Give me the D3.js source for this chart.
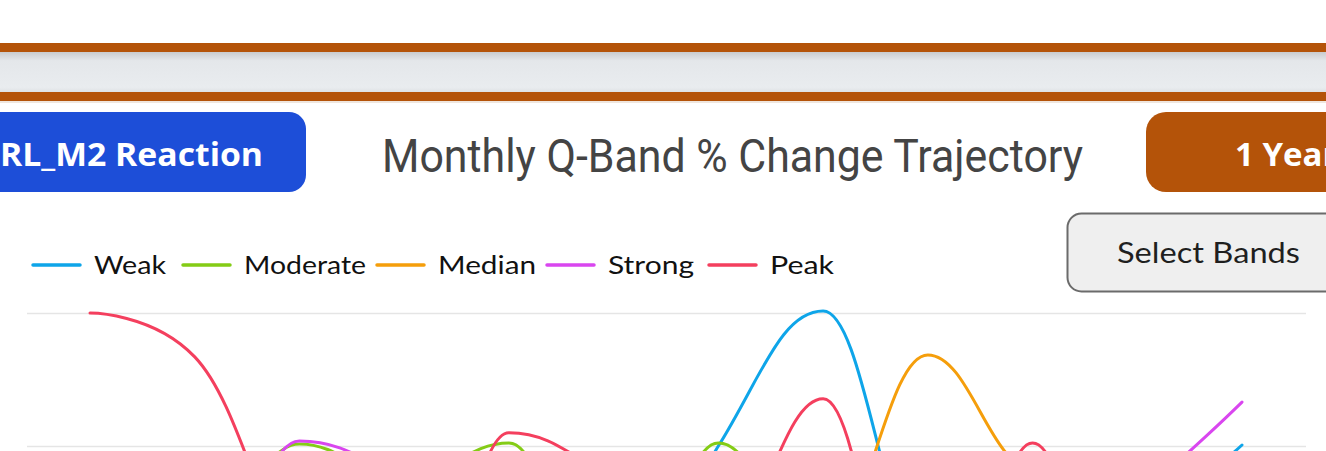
<!DOCTYPE html>
<html>
<head>
<meta charset="utf-8">
<script src="https://cdn.jsdelivr.net/npm/d3@7"></script>
<style>
  html, body { margin: 0; padding: 0; background: #ffffff; overflow: hidden; }
  svg { display: block; }
</style>
</head>
<body>
<svg id="chart" width="1326" height="451"></svg>
<script>
// ---------------- DATA ----------------
const months = ["Jan", "Feb", "Mar", "Apr", "May", "Jun", "Jul", "Aug", "Sep", "Oct", "Nov", "Dec"];
const seriesNames = ["Weak", "Moderate", "Median", "Strong", "Peak"];
const seriesColors = ["#0ea5e9", "#84cc16", "#f59e0b", "#d946ef", "#f43f5e"];
const weakValues     = [-20, -25, -15, -22, -28, -30, 0, 20.3, -17.1, -10, -9.3, 0.15];
const moderateValues = [-10, -15, 0.3, -5, 0.45, -30, 0.45, -19, -20, -10, -18, -8];
const medianValues   = [-8, -12, -6, -14, -9, -18, -10, -15.2, 13.7, -3.4, -3.0, -8];
const strongValues   = [-15, -25, 0.75, -5, -14, -20, -18, -25, -22, -17, -7.4, 6.6];
const peakValues     = [20, 13.4, -20, -40, 2.0, -5, -15, 7.1, -43, 0.45, -40, -30];
const gridTicks = [20, 0, -20, -40, -60];
const titleText = "Monthly Q-Band % Change Trajectory";
const leftButtonText = "RL_M2 Reaction";
const rightButtonText = "1 Year";
const selectText = "Select Bands";

const allValues = [weakValues, moderateValues, medianValues, strongValues, peakValues];

// ---------------- SPLINE CURVE (smoothing 1.5, no overshoot) ----------------
function SmoothSpline(context) { this._context = context; }
SmoothSpline.prototype = {
  areaStart() { this._line = 0; },
  areaEnd() { this._line = NaN; },
  lineStart() { this._pts = []; },
  point(x, y) { this._pts.push({ x: +x, y: +y }); },
  lineEnd() {
    const p = this._pts, n = p.length, ctx = this._context;
    if (!n) return;
    const smoothing = 1.5, denom = smoothing + 1;
    for (let i = 1; i < n - 1; i++) {
      const a = p[i - 1], c = p[i], b = p[i + 1];
      const lx = (smoothing * c.x + a.x) / denom;
      let ly = (smoothing * c.y + a.y) / denom;
      const rx = (smoothing * c.x + b.x) / denom;
      let ry = (smoothing * c.y + b.y) / denom;
      let corr = 0;
      if (rx !== lx) corr = ((ry - ly) * (rx - c.x)) / (rx - lx) + c.y - ry;
      ly += corr; ry += corr;
      if (ly > a.y && ly > c.y) { ly = Math.max(a.y, c.y); ry = 2 * c.y - ly; }
      else if (ly < a.y && ly < c.y) { ly = Math.min(a.y, c.y); ry = 2 * c.y - ly; }
      if (ry > b.y && ry > c.y) { ry = Math.max(b.y, c.y); ly = 2 * c.y - ry; }
      else if (ry < b.y && ry < c.y) { ry = Math.min(b.y, c.y); ly = 2 * c.y - ry; }
      c.lx = lx; c.ly = ly; c.rx = rx; c.ry = ry;
    }
    ctx.moveTo(p[0].x, p[0].y);
    for (let i = 1; i < n; i++) {
      const a = p[i - 1], c = p[i];
      const c1x = a.rx !== undefined ? a.rx : a.x;
      const c1y = a.ry !== undefined ? a.ry : a.y;
      const c2x = c.lx !== undefined ? c.lx : c.x;
      const c2y = c.ly !== undefined ? c.ly : c.y;
      ctx.bezierCurveTo(c1x, c1y, c2x, c2y, c.x, c.y);
    }
  }
};
const curveSmoothSpline = ctx => new SmoothSpline(ctx);

// ---------------- DRAW ----------------
const W = 1326, H = 451;
const svg = d3.select("#chart");
const defs = svg.append("defs");

const bandGrad = defs.append("linearGradient").attr("id", "bandGrad").attr("x1", 0).attr("y1", 0).attr("x2", 0).attr("y2", 1);
bandGrad.append("stop").attr("offset", "0%").attr("stop-color", "#c9cbce");
bandGrad.append("stop").attr("offset", "22%").attr("stop-color", "#e4e7ea");
bandGrad.append("stop").attr("offset", "88%").attr("stop-color", "#e9ecef");
bandGrad.append("stop").attr("offset", "100%").attr("stop-color", "#dfe2e5");

// header band
svg.append("rect").attr("x", 0).attr("y", 43).attr("width", W).attr("height", 9).attr("fill", "#b45309");
svg.append("rect").attr("x", 0).attr("y", 52).attr("width", W).attr("height", 40).attr("fill", "url(#bandGrad)");
svg.append("rect").attr("x", 0).attr("y", 92).attr("width", W).attr("height", 9).attr("fill", "#b45309");
svg.append("rect").attr("x", 0).attr("y", 101).attr("width", W).attr("height", 2).attr("fill", "#efe6de");

// left button
svg.append("rect").attr("x", -60).attr("y", 112).attr("width", 366).attr("height", 80).attr("rx", 17).attr("fill", "#1d4ed8");
svg.append("text").attr("x", 0).attr("y", 166)
  .attr("font-family", "'Open Sans', sans-serif").attr("font-weight", 700).attr("font-size", 33)
  .attr("fill", "#ffffff").attr("textLength", 263).attr("lengthAdjust", "spacingAndGlyphs")
  .text(leftButtonText);

// title
svg.append("text").attr("x", 382).attr("y", 172)
  .attr("font-family", "Roboto, sans-serif").attr("font-weight", 400).attr("font-size", 47)
  .attr("fill", "#444444").attr("textLength", 701).attr("lengthAdjust", "spacingAndGlyphs")
  .text(titleText);

// right button
svg.append("rect").attr("x", 1146).attr("y", 112).attr("width", 300).attr("height", 80).attr("rx", 20).attr("fill", "#b45309");
svg.append("text").attr("x", 1235).attr("y", 166)
  .attr("font-family", "'Open Sans', sans-serif").attr("font-weight", 700).attr("font-size", 33)
  .attr("fill", "#ffffff")
  .text(rightButtonText);

// select bands button
svg.append("rect").attr("x", 1067.5).attr("y", 213.5).attr("width", 300).attr("height", 78).attr("rx", 14)
  .attr("fill", "#efefef").attr("stroke", "#6b6b6b").attr("stroke-width", 2);
svg.append("text").attr("x", 1117).attr("y", 263)
  .attr("font-family", "Lato, sans-serif").attr("font-size", 28).attr("fill", "#1f1f1f")
  .attr("textLength", 183).attr("lengthAdjust", "spacingAndGlyphs")
  .text(selectText);

// legend
const legendMarkerX = [33, 183, 377, 547, 709];
const legendTextWidths = [72, 122, 98, 86, 64];
const legend = svg.append("g").attr("class", "legend");
seriesNames.forEach((name, i) => {
  const g = legend.append("g");
  g.append("line").attr("x1", legendMarkerX[i]).attr("x2", legendMarkerX[i] + 47)
    .attr("y1", 265).attr("y2", 265)
    .attr("stroke", seriesColors[i]).attr("stroke-width", 3.5).attr("stroke-linecap", "round");
  g.append("text").attr("x", legendMarkerX[i] + 61).attr("y", 274)
    .attr("font-family", "Lato, sans-serif").attr("font-size", 25).attr("fill", "#111111")
    .attr("textLength", legendTextWidths[i]).attr("lengthAdjust", "spacingAndGlyphs")
    .text(name);
});

// scales
const x = d3.scalePoint().domain(months).range([90, 1242]);
const y = d3.scaleLinear().domain([-60, 20]).range([845, 313]);

// gridlines via axis
const gridAxis = d3.axisLeft(y).tickValues(gridTicks).tickSize(-(1306 - 27)).tickFormat("");
const gridG = svg.append("g").attr("transform", "translate(1306,0)").call(gridAxis);
gridG.select(".domain").remove();
gridG.selectAll(".tick line").attr("stroke", "#e5e5e5").attr("stroke-width", 1.3)
  .attr("transform", "translate(" + (-(1306 - 27)) + ",0) scale(-1,1)");
gridG.selectAll(".tick line").attr("transform", null)
  .attr("x1", -(1306 - 27)).attr("x2", 0);

// lines
const line = d3.line().x((d, i) => x(months[i])).y(d => y(d)).curve(curveSmoothSpline);
const lines = svg.append("g");
allValues.forEach((vals, i) => {
  lines.append("path").datum(vals)
    .attr("d", line)
    .attr("fill", "none")
    .attr("stroke", seriesColors[i])
    .attr("stroke-width", 3)
    .attr("stroke-linejoin", "round")
    .attr("stroke-linecap", "round");
});
</script>
</body>
</html>
